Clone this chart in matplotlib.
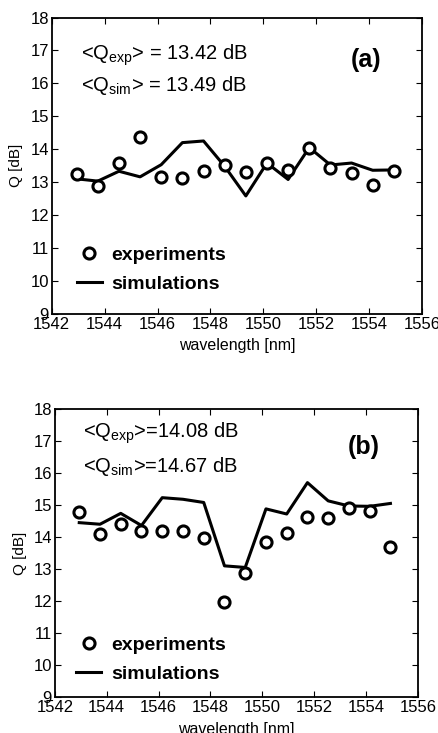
import matplotlib.pyplot as plt
from matplotlib.lines import Line2D

plt.rcParams['font.family'] = ['Liberation Sans', 'DejaVu Sans']
plt.rcParams['mathtext.fontset'] = 'custom'
plt.rcParams['mathtext.rm'] = 'Liberation Sans'

# channel wavelengths [nm]
wl = [1542.94, 1543.74, 1544.54, 1545.34, 1546.14, 1546.94, 1547.74, 1548.54,
      1549.34, 1550.14, 1550.94, 1551.74, 1552.54, 1553.34, 1554.14, 1554.94]

# (a)
exp_a = [13.25, 12.87, 13.58, 14.36, 13.15, 13.14, 13.33, 13.52,
         13.32, 13.58, 13.38, 14.03, 13.44, 13.29, 12.92, 13.34]
sim_a = [13.10, 13.03, 13.33, 13.16, 13.53, 14.20, 14.25, 13.48,
         12.58, 13.58, 13.08, 14.05, 13.52, 13.58, 13.36, 13.37]

# (b)
exp_b = [14.77, 14.10, 14.41, 14.18, 14.20, 14.20, 13.96, 11.98,
         12.87, 13.84, 14.12, 14.62, 14.59, 14.90, 14.80, 13.70]
sim_b = [14.45, 14.40, 14.74, 14.36, 15.23, 15.18, 15.08, 13.10,
         13.05, 14.88, 14.72, 15.70, 15.13, 14.97, 14.96, 15.05]

labels_a = ('(a)', '<Q$_{\\mathrm{exp}}$> = 13.42 dB', '<Q$_{\\mathrm{sim}}$> = 13.49 dB')
labels_b = ('(b)', '<Q$_{\\mathrm{exp}}$>=14.08 dB', '<Q$_{\\mathrm{sim}}$>=14.67 dB')

fig = plt.figure(figsize=(4.39, 7.33), dpi=100)
ax_a = fig.add_axes([0.118, 0.572, 0.843, 0.404])
ax_b = fig.add_axes([0.125, 0.049, 0.827, 0.393])

panels = [
    # axes, data, texts, text y (exp, sim, tag), legend anchor
    (ax_a, exp_a, sim_a, labels_a, (16.85, 15.95, 16.7), (0.02, 0.01)),
    (ax_b, exp_b, sim_b, labels_b, (17.25, 16.2, 16.8), (0.01, -0.012)),
]

for ax, exp, sim, (tag, t1, t2), (y1, y2, yt), anchor in panels:
    ax.plot(wl, sim, color='black', lw=2.2)
    ax.plot(wl, exp, 'o', mfc='white', mec='black', ms=8, mew=2.2)
    ax.set_xlim(1542, 1556)
    ax.set_ylim(9, 18)
    ax.set_xticks(range(1542, 1557, 2))
    ax.set_yticks(range(9, 19))
    ax.tick_params(direction='in', top=True, right=True, length=4,
                   labelsize=12, pad=2)
    for s in ax.spines.values():
        s.set_linewidth(1.3)
    ax.set_xlabel('wavelength [nm]', fontsize=11.5, labelpad=5)
    ax.set_ylabel('Q [dB]', fontsize=11, labelpad=5)
    ax.text(1543.1, y1, t1, fontsize=14.5, va='center')
    ax.text(1543.1, y2, t2, fontsize=14.5, va='center')
    ax.text(1553.9, yt, tag, fontsize=18, fontweight='bold', ha='center', va='center')
    handles = [Line2D([], [], ls='none', marker='o', mfc='white', mec='black', ms=8, mew=2.2),
               Line2D([], [], color='black', lw=2.2)]
    ax.legend(handles, ['experiments', 'simulations'], loc='lower left',
              bbox_to_anchor=anchor, frameon=False,
              prop={'weight': 'bold', 'size': 14}, handlelength=1.3,
              handletextpad=0.5, labelspacing=0.6)

fig.savefig('out.png', dpi=100)
